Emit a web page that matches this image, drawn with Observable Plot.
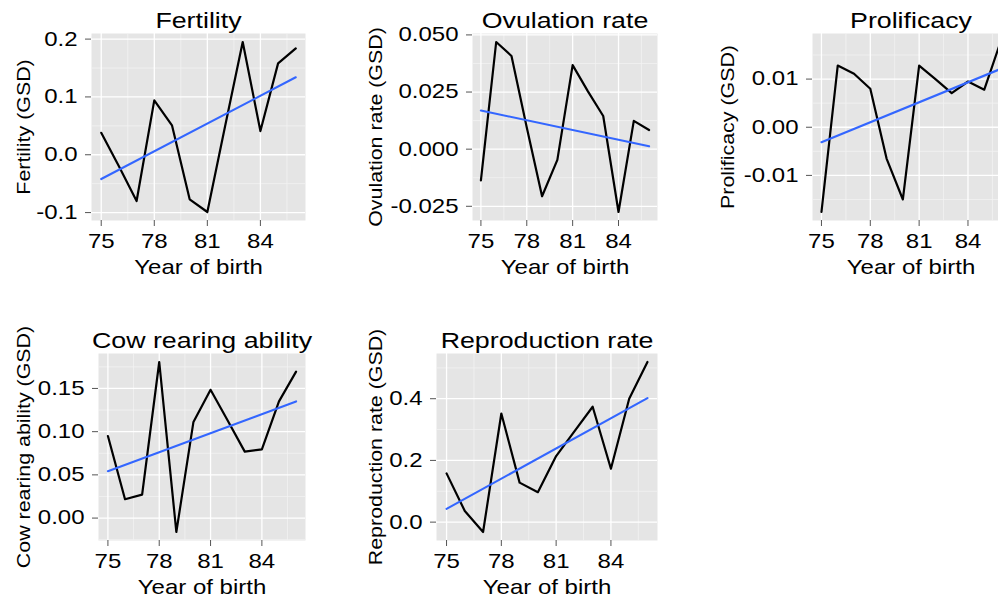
<!DOCTYPE html>
<html>
<head>
<meta charset="utf-8">
<script src="https://cdn.jsdelivr.net/npm/d3@7"></script>
<script src="https://cdn.jsdelivr.net/npm/@observablehq/plot@0.6"></script>
<style>
html, body { margin: 0; padding: 0; background: #fff; overflow: hidden; }
#chart { position: relative; width: 998px; height: 598px; overflow: hidden; font-family: "Liberation Sans", Arial, sans-serif; }
.cell { position: absolute; width: 352px; height: 320px; }
.cell svg { max-width: none !important; display: block; }
</style>
</head>
<body>
<div id="chart"></div>
<script>
// ---- data ----
const years = [75, 76, 77, 78, 79, 80, 81, 82, 83, 84, 85, 86];

const fertility     = [0.038, -0.020, -0.080, 0.094, 0.051, -0.077, -0.099, 0.049, 0.195, 0.041, 0.158, 0.184];
const ovulationRate = [-0.0137, 0.0469, 0.0408, 0.0095, -0.0206, -0.0047, 0.0368, 0.0253, 0.0145, -0.0275, 0.0124, 0.0084];
const prolificacy   = [-0.0176, 0.0128, 0.0111, 0.0080, -0.0065, -0.0150, 0.0128, 0.0100, 0.0071, 0.0095, 0.0078, 0.0177];
const cowRearing    = [0.0949, 0.0218, 0.0272, 0.1806, -0.0161, 0.1113, 0.1484, 0.1129, 0.0769, 0.0796, 0.1350, 0.1695];
const reproduction  = [0.158, 0.036, -0.032, 0.352, 0.128, 0.097, 0.214, 0.294, 0.374, 0.173, 0.400, 0.519];

// fitted (blue) trend lines: values at first and last year
const trendYears = [75, 86];
const fertilityTrend    = [-0.042, 0.134];
const ovulationTrend    = [0.0169, 0.0013];
const prolificacyTrend  = [-0.0031, 0.0121];
const cowRearingTrend   = [0.0543, 0.1350];
const reproductionTrend = [0.0432, 0.402];

// tick labels
const xTickLabels = ["75", "78", "81", "84"];
const fertilityTicks    = ["-0.1", "0.0", "0.1", "0.2"];
const ovulationTicks    = ["-0.025", "0.000", "0.025", "0.050"];
const prolificacyTicks  = ["-0.01", "0.00", "0.01"];
const cowRearingTicks   = ["0.00", "0.05", "0.10", "0.15"];
const reproductionTicks = ["0.0", "0.2", "0.4"];

const titles  = ["Fertility", "Ovulation rate", "Prolificacy", "Cow rearing ability", "Reproduction rate"];
const yLabels = ["Fertility (GSD)", "Ovulation rate (GSD)", "Prolificacy (GSD)", "Cow rearing ability (GSD)", "Reproduction rate (GSD)"];
const xLabel  = "Year of birth";

// ---- layout ----
const panels = [
  {title: titles[0], ylabel: yLabels[0], values: fertility,     trend: fertilityTrend,    ticks: fertilityTicks,    col: 0, row: 0, left: 91},
  {title: titles[1], ylabel: yLabels[1], values: ovulationRate, trend: ovulationTrend,    ticks: ovulationTicks,    col: 1, row: 0, left: 120},
  {title: titles[2], ylabel: yLabels[2], values: prolificacy,   trend: prolificacyTrend,  ticks: prolificacyTicks,  col: 2, row: 0, left: 108},
  {title: titles[3], ylabel: yLabels[3], values: cowRearing,    trend: cowRearingTrend,   ticks: cowRearingTicks,   col: 0, row: 1, left: 98},
  {title: titles[4], ylabel: yLabels[4], values: reproduction,  trend: reproductionTrend, ticks: reproductionTicks, col: 1, row: 1, left: 84}
];

const CELL_W = 352, CELL_H = 320;
const STRETCH = 1.2;           // text in the reference is drawn wide
const YLAB_STRETCH = 1.15;
const FONT = "Liberation Sans, Arial, Helvetica, sans-serif";
const TICK_FS = 20, XLAB_FS = 20, TITLE_FS = 22.3, YLAB_FS = 18.6;
const yLabelSet = new Set(yLabels);

function expand([a, b]) { const p = (b - a) * 0.05; return [a - p, b + p]; }
function minors(ticks, domain) {
  const step = ticks[1] - ticks[0];
  const out = [];
  for (let i = -1; i < ticks.length; i++) {
    const m = ticks[0] + (i + 0.5) * step;
    if (m > domain[0] && m < domain[1]) out.push(m);
  }
  return out;
}

function stretchText(svg) {
  svg.querySelectorAll("text").forEach(t => {
    const s = yLabelSet.has(t.textContent) ? YLAB_STRETCH : STRETCH;
    let x = parseFloat(t.getAttribute("x") || "0") || 0;
    let dxAttr = t.getAttribute("dx");
    let dx = 0;
    if (dxAttr) {
      const fs = parseFloat(getComputedStyle(t).fontSize) || 16;
      dx = dxAttr.endsWith("em") ? parseFloat(dxAttr) * fs : parseFloat(dxAttr);
      t.removeAttribute("dx");
    }
    if (x) t.removeAttribute("x");
    const old = t.getAttribute("transform") || "";
    t.setAttribute("transform", `${old} translate(${x + dx},0) scale(${s},1)`);
  });
}

const chart = document.getElementById("chart");
const xTicks = xTickLabels.map(Number);
const xDomain = expand([years[0], years[years.length - 1]]);

panels.forEach(p => {
  const rows = years.map((year, i) => ({year, value: p.values[i]}));
  const trendRows = trendYears.map((year, i) => ({year, value: p.trend[i]}));
  const yTicks = p.ticks.map(Number);
  const tickText = new Map(p.ticks.map(s => [Number(s), s]));
  const yDomain = expand(d3.extent([...p.values, ...p.trend]));

  const plot = Plot.plot({
    width: CELL_W,
    height: CELL_H,
    marginTop: 33,
    marginBottom: 100,
    marginLeft: p.left,
    marginRight: 47,
    style: {fontFamily: FONT, fontSize: TICK_FS + "px", color: "black", background: "transparent", overflow: "visible", maxWidth: "none"},
    x: {domain: xDomain},
    y: {domain: yDomain},
    marks: [
      Plot.frame({fill: "#E5E5E5", stroke: "none"}),
      Plot.ruleX(minors(xTicks, xDomain), {stroke: "#F2F2F2", strokeWidth: 0.8}),
      Plot.ruleY(minors(yTicks, yDomain), {stroke: "#F2F2F2", strokeWidth: 0.8}),
      Plot.ruleX(xTicks, {stroke: "white", strokeWidth: 1.3}),
      Plot.ruleY(yTicks, {stroke: "white", strokeWidth: 1.3}),
      Plot.axisX({ticks: xTicks, tickSize: 6, tickPadding: 7, stroke: "#555", fill: "black", fontSize: TICK_FS, label: null, tickFormat: d => String(d)}),
      Plot.axisY({ticks: yTicks, tickSize: 6, tickPadding: 8, stroke: "#555", fill: "black", fontSize: TICK_FS, label: null, tickFormat: d => tickText.get(d)}),
      Plot.line(rows, {x: "year", y: "value", stroke: "black", strokeWidth: 2.2}),
      Plot.line(trendRows, {x: "year", y: "value", stroke: "#3366FF", strokeWidth: 2.1}),
      Plot.text([p.title], {frameAnchor: "top", dy: -6, lineAnchor: "bottom", textAnchor: "middle", fontSize: TITLE_FS, fill: "black"}),
      Plot.text([xLabel], {frameAnchor: "bottom", dy: 53, lineAnchor: "bottom", textAnchor: "middle", fontSize: XLAB_FS, fill: "black"}),
      Plot.text([p.ylabel], {frameAnchor: "left", dx: -(p.left - 29), rotate: -90, lineAnchor: "bottom", textAnchor: "middle", fontSize: YLAB_FS, fill: "black"})
    ]
  });

  const cell = document.createElement("div");
  cell.className = "cell";
  cell.style.left = (p.col * CELL_W) + "px";
  cell.style.top = (p.row * CELL_H) + "px";
  cell.appendChild(plot);
  chart.appendChild(cell);
  stretchText(plot);
});
</script>
</body>
</html>
